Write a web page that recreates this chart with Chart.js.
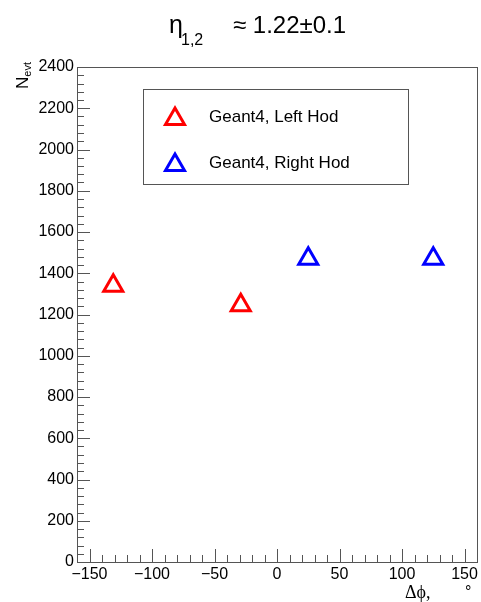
<!DOCTYPE html>
<html>
<head>
<meta charset="utf-8">
<script src="https://cdn.jsdelivr.net/npm/chart.js@4/dist/chart.umd.min.js"></script>
<style>
  html, body { margin: 0; padding: 0; background: #fff; }
  #c { display: block; }
</style>
</head>
<body>
<canvas id="c" width="481" height="602"></canvas>
<script>
// data
var leftPhi = [-131, -29];
var leftN = [1340, 1245];
var rightPhi = [25, 125];
var rightN = [1470, 1470];
var xTicks = [-150, -100, -50, 0, 50, 100, 150];
var yTicks = [0, 200, 400, 600, 800, 1000, 1200, 1400, 1600, 1800, 2000, 2200, 2400];
var seriesNames = ['Geant4, Left Hod', 'Geant4, Right Hod'];
var seriesColors = ['#ff0000', '#0000ff'];

var FONT = '"Liberation Sans", Arial, sans-serif';
var AXIS = '#555';

function pts(xs, ys) {
    return xs.map(function (x, i) { return { x: x, y: ys[i] }; });
}

function tri(ctx, x, y, r, color) {
    ctx.save();
    ctx.strokeStyle = color;
    ctx.lineWidth = 3;
    ctx.beginPath();
    ctx.moveTo(x, y - r);
    ctx.lineTo(x + r * Math.sin(2 * Math.PI / 3), y + r / 2);
    ctx.lineTo(x - r * Math.sin(2 * Math.PI / 3), y + r / 2);
    ctx.closePath();
    ctx.stroke();
    ctx.restore();
}

// frame, ROOT style ticks, labels, title and legend
var rootStyle = {
    id: 'rootStyle',
    afterDraw: function (chart) {
        var ctx = chart.ctx;
        var a = chart.chartArea;
        var xs = chart.scales.x, ys = chart.scales.y;
        ctx.save();

        // frame
        ctx.strokeStyle = AXIS;
        ctx.lineWidth = 1;
        ctx.strokeRect(Math.round(a.left) + 0.5, Math.round(a.top) + 0.5,
            Math.round(a.right - a.left), Math.round(a.bottom - a.top));

        // x ticks
        ctx.beginPath();
        for (var v = -160; v <= 160; v += 10) {
            var px = Math.round(xs.getPixelForValue(v)) + 0.5;
            var len = (v % 50 === 0) ? 13 : 7;
            ctx.moveTo(px, a.bottom);
            ctx.lineTo(px, a.bottom - len);
        }
        // y ticks
        for (var w = 0; w <= 2400; w += 40) {
            var py = Math.round(ys.getPixelForValue(w)) + 0.5;
            var l2 = (w % 200 === 0) ? 13 : 7;
            ctx.moveTo(a.left, py);
            ctx.lineTo(a.left + l2, py);
        }
        ctx.stroke();

        // tick labels
        ctx.fillStyle = '#000';
        ctx.font = '16px ' + FONT;
        ctx.textAlign = 'center';
        ctx.textBaseline = 'top';
        xTicks.forEach(function (t) {
            var s = t < 0 ? '\u2212' + Math.abs(t) : String(t);
            ctx.fillText(s, xs.getPixelForValue(t), a.bottom + 5);
        });
        ctx.textAlign = 'right';
        ctx.textBaseline = 'middle';
        yTicks.forEach(function (t) {
            ctx.fillText(String(t), a.left - 3, ys.getPixelForValue(t));
        });

        // title
        ctx.textAlign = 'left';
        ctx.textBaseline = 'alphabetic';
        ctx.font = '25px ' + FONT;
        ctx.fillText('\u03b7', 169, 33);
        ctx.font = '16px ' + FONT;
        ctx.fillText('1,2', 181, 45);
        ctx.font = '24px ' + FONT;
        ctx.fillText('\u2248 1.22\u00b10.1', 233, 33);

        // y axis title, rotated
        ctx.save();
        ctx.translate(28, 62);
        ctx.rotate(-Math.PI / 2);
        ctx.textAlign = 'left';
        ctx.font = '11px ' + FONT;
        var wSub = ctx.measureText('evt').width;
        ctx.font = '17px ' + FONT;
        var wN = ctx.measureText('N').width;
        ctx.fillText('N', -(wN + wSub), 0);
        ctx.font = '11px ' + FONT;
        ctx.fillText('evt', -wSub, 3);
        ctx.restore();

        // x axis title
        ctx.textAlign = 'left';
        ctx.font = '18px "Liberation Serif", "DejaVu Serif", serif';
        ctx.fillText('\u0394\u03d5,', 405, 598);
        ctx.font = '16px ' + FONT;
        ctx.fillText('\u00b0', 465, 597);

        // legend
        ctx.strokeStyle = AXIS;
        ctx.strokeRect(143.5, 89.5, 265, 95);
        ctx.fillStyle = '#000';
        ctx.font = '17px ' + FONT;
        ctx.textBaseline = 'middle';
        seriesNames.forEach(function (name, i) {
            var yy = 117 + i * 46;
            tri(ctx, 175, yy + 2, 11, seriesColors[i]);
            ctx.fillText(name, 209, yy);
        });

        ctx.restore();
    }
};

new Chart(document.getElementById('c'), {
    type: 'scatter',
    data: {
        datasets: [{
            label: seriesNames[0],
            data: pts(leftPhi, leftN),
            pointStyle: 'triangle',
            pointRadius: 11,
            borderWidth: 3,
            borderColor: seriesColors[0],
            backgroundColor: 'rgba(0,0,0,0)'
        }, {
            label: seriesNames[1],
            data: pts(rightPhi, rightN),
            pointStyle: 'triangle',
            pointRadius: 11,
            borderWidth: 3,
            borderColor: seriesColors[1],
            backgroundColor: 'rgba(0,0,0,0)'
        }]
    },
    options: {
        responsive: false,
        animation: false,
        devicePixelRatio: 1,
        events: [],
        layout: { autoPadding: false, padding: { left: 77, right: 4, top: 67, bottom: 40 } },
        scales: {
            x: { type: 'linear', min: -160, max: 160, display: false },
            y: { type: 'linear', min: 0, max: 2400, display: false }
        },
        plugins: {
            legend: { display: false },
            tooltip: { enabled: false }
        }
    },
    plugins: [rootStyle]
});
</script>
</body>
</html>
